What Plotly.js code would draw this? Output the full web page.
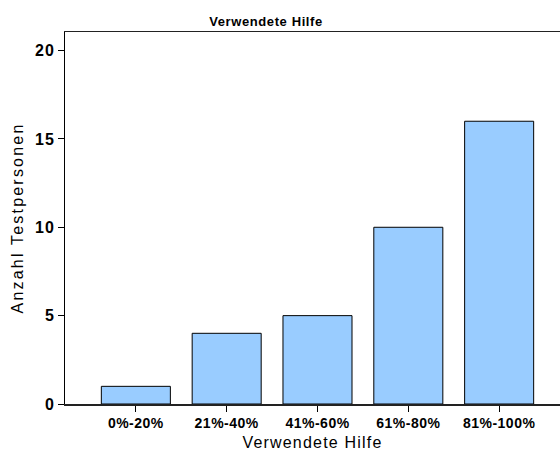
<!DOCTYPE html>
<html>
<head>
<meta charset="utf-8">
<script src="https://cdn.plot.ly/plotly-3.0.1.min.js"></script>
<style>
html,body{margin:0;padding:0;background:#fff;}
#chart{width:560px;height:455px;}
.xtitle{letter-spacing:1.2px;}
.ytitle{letter-spacing:2.2px;}
.ytick text{letter-spacing:1px;}
.xtick text{letter-spacing:0.5px;}
.gtitle{letter-spacing:0.6px;}
</style>
</head>
<body>
<div id="chart"></div>
<script>
const categories = ["0%-20%", "21%-40%", "41%-60%", "61%-80%", "81%-100%"];
const counts = [1, 4, 5, 10, 16];
const yTicks = [0, 5, 10, 15, 20];

const trace = {
  type: "bar",
  x: categories,
  y: counts,
  width: 0.76,
  marker: {color: "#99CCFF", line: {color: "#000000", width: 1}},
  hoverinfo: "x+y"
};

const layout = {
  width: 560, height: 455,
  margin: {l: 65, r: 0, t: 32, b: 51},
  paper_bgcolor: "#ffffff", plot_bgcolor: "#ffffff",
  showlegend: false,
  font: {family: "Liberation Sans, Arial, sans-serif", color: "#000"},
  title: {text: "<b>Verwendete Hilfe</b>", x: 0.475, xanchor: "center", y: 0.953, yanchor: "middle",
          font: {size: 13, color: "#000"}},
  xaxis: {
    type: "category",
    range: [-0.78, 4.67],
    showline: true, linecolor: "#222", linewidth: 1.5, mirror: true,
    ticks: "outside", ticklen: 6, tickcolor: "#000", tickwidth: 1,
    showgrid: false, zeroline: false,
    tickfont: {size: 14, weight: "bold"},
    title: {text: "Verwendete Hilfe", font: {size: 16}, standoff: 6}
  },
  yaxis: {
    range: [0, 21.05],
    tickvals: yTicks, ticktext: yTicks.map(String),
    showline: true, linecolor: "#000", linewidth: 1,
    ticks: "outside", ticklen: 6, tickcolor: "#000", tickwidth: 1,
    showgrid: false, zeroline: false,
    tickfont: {size: 16, weight: "bold"},
    title: {text: "Anzahl Testpersonen", font: {size: 16}, standoff: 7}
  }
};

Plotly.newPlot("chart", [trace], layout, {displayModeBar: false, staticPlot: true});
</script>
</body>
</html>
